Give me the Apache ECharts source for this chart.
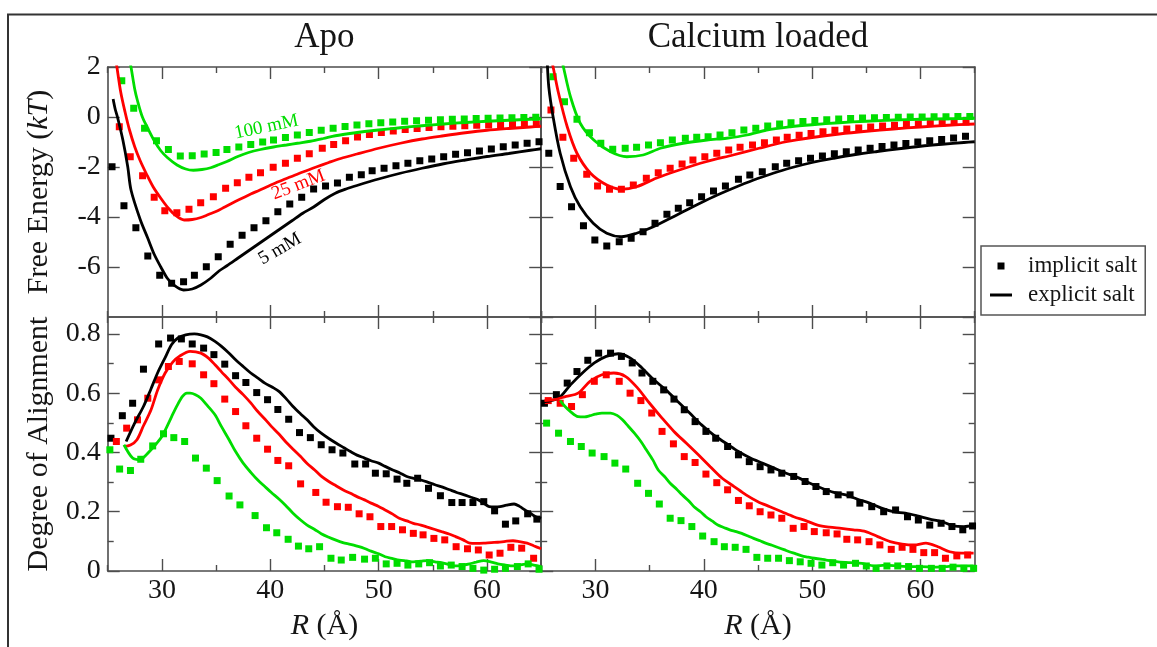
<!DOCTYPE html>
<html>
<head>
<meta charset="utf-8">
<script src="https://cdn.jsdelivr.net/npm/echarts@6/dist/echarts.min.js"></script>
<style>
html,body{margin:0;padding:0;background:#fff;}
#chart{width:1157px;height:647px;}
</style>
</head>
<body>
<div id="chart"></div>
<script>
// ---- panel titles, axis labels, legend ----
const panelTitles = ['Apo', 'Calcium loaded'];
const legendNames = ['implicit salt', 'explicit salt'];
const rTickLabels = [30, 40, 50, 60];
const alignTickLabels = [0, 0.2, 0.4, 0.6, 0.8];
const alignMinorTicks = [0.1, 0.3, 0.5, 0.7];
const curveLabels = [
  { text: '100 mM', at: [39.65, -0.4], angle: 12, color: '#00dd00' },
  { text: '25 mM', at: [42.6, -2.72], angle: 21, color: '#ff0000' },
  { text: '5 mM', at: [40.9, -5.28], angle: 30, color: '#000000' }
];

// ---- Apo, free energy (kT) vs R (Å) ----
const apoFeImp5 = [[25.4,-1.99],[26.5,-3.55],[27.6,-4.43],[28.7,-5.56],[29.8,-6.33],[30.9,-6.65],[32.0,-6.59],[33.0,-6.33],[34.1,-5.99],[35.2,-5.59],[36.3,-5.09],[37.4,-4.73],[38.5,-4.43],[39.6,-4.15],[40.7,-3.79],[41.8,-3.48],[42.9,-3.21],[44.0,-2.88],[45.1,-2.76],[46.2,-2.64],[47.3,-2.41],[48.4,-2.31],[49.4,-2.15],[50.5,-2.05],[51.6,-1.95],[52.7,-1.85],[53.8,-1.75],[54.9,-1.68],[56.0,-1.59],[57.1,-1.49],[58.2,-1.43],[59.3,-1.36],[60.4,-1.28],[61.5,-1.19],[62.6,-1.12],[63.7,-1.05],[64.8,-0.99]];
const apoFeExp5 = [[25.5,0.72],[25.7,0.3],[25.9,0.0],[26.4,-0.92],[26.85,-1.99],[27.15,-2.92],[28.0,-4.1],[28.7,-4.85],[29.3,-5.5],[29.9,-6.0],[30.5,-6.45],[31.1,-6.72],[32.0,-6.92],[32.8,-6.88],[33.6,-6.72],[34.5,-6.45],[35.3,-6.15],[36.0,-5.95],[37.0,-5.65],[38.0,-5.35],[39.0,-5.05],[40.0,-4.75],[41.0,-4.45],[42.0,-4.15],[43.0,-3.85],[44.0,-3.6],[45.0,-3.3],[46.0,-3.05],[47.0,-2.88],[48.0,-2.74],[50.0,-2.48],[52.0,-2.25],[54.0,-2.05],[56.0,-1.87],[58.0,-1.72],[60.0,-1.58],[62.0,-1.46],[64.0,-1.33],[65.0,-1.27]];
const apoFeImp25 = [[26.07,-0.39],[27.08,-1.59],[28.22,-2.35],[29.29,-3.21],[30.27,-3.75],[31.38,-3.83],[32.5,-3.69],[33.58,-3.43],[34.75,-3.19],[35.88,-2.85],[36.96,-2.63],[38.03,-2.41],[39.1,-2.23],[40.27,-2.01],[41.4,-1.85],[42.5,-1.65],[43.6,-1.47],[44.8,-1.25],[45.85,-1.1],[46.95,-0.95],[48.05,-0.8],[49.15,-0.7],[50.25,-0.62],[51.35,-0.56],[52.45,-0.5],[53.55,-0.46],[54.65,-0.42],[55.75,-0.39],[56.85,-0.37],[57.95,-0.35],[59.05,-0.33],[60.15,-0.32],[61.25,-0.31],[62.35,-0.3],[63.45,-0.29],[64.55,-0.28]];
const apoFeExp25 = [[25.75,2.3],[25.85,2.0],[26.2,1.0],[26.6,0.2],[27.0,-0.5],[27.5,-1.2],[28.0,-1.75],[28.6,-2.3],[29.2,-2.8],[29.9,-3.25],[30.6,-3.65],[31.3,-3.95],[32.05,-4.12],[32.8,-4.1],[33.6,-4.02],[34.3,-3.9],[35.1,-3.76],[35.8,-3.6],[36.6,-3.42],[37.4,-3.25],[38.2,-3.08],[39.0,-2.93],[39.7,-2.79],[40.8,-2.58],[41.9,-2.39],[43.0,-2.2],[44.3,-1.99],[45.4,-1.82],[46.5,-1.66],[48.0,-1.48],[50.0,-1.25],[52.0,-1.05],[54.0,-0.88],[56.0,-0.75],[58.0,-0.63],[60.0,-0.53],[62.0,-0.46],[64.0,-0.4],[65.0,-0.37]];
const apoFeImp100 = [[26.3,1.45],[27.4,0.35],[28.4,-0.45],[29.5,-0.95],[30.6,-1.3],[31.7,-1.56],[32.8,-1.55],[33.9,-1.48],[35.0,-1.42],[36.0,-1.3],[37.1,-1.2],[38.2,-1.1],[39.3,-1.0],[40.3,-0.92],[41.4,-0.82],[42.5,-0.72],[43.6,-0.62],[44.7,-0.53],[45.8,-0.45],[46.9,-0.38],[48.0,-0.32],[49.1,-0.27],[50.2,-0.23],[51.3,-0.2],[52.4,-0.17],[53.5,-0.15],[54.6,-0.13],[55.7,-0.11],[56.8,-0.09],[57.9,-0.08],[59.0,-0.06],[60.1,-0.05],[61.2,-0.04],[62.3,-0.03],[63.4,-0.02],[64.5,-0.01]];
const apoFeExp100 = [[27.0,2.3],[27.15,2.0],[27.5,1.1],[27.75,0.65],[28.2,0.0],[28.7,-0.45],[29.3,-0.95],[29.9,-1.35],[30.5,-1.62],[31.4,-1.92],[32.2,-2.08],[32.9,-2.13],[33.7,-2.1],[34.5,-2.03],[35.3,-1.9],[36.0,-1.78],[37.0,-1.58],[38.0,-1.42],[39.1,-1.3],[40.3,-1.2],[41.5,-1.12],[42.5,-1.05],[43.7,-0.97],[44.9,-0.86],[46.0,-0.75],[47.7,-0.64],[50.0,-0.52],[52.0,-0.43],[54.0,-0.35],[56.0,-0.28],[58.0,-0.22],[60.0,-0.17],[62.0,-0.13],[64.0,-0.09],[65.0,-0.07]];

// ---- Calcium loaded, free energy (kT) vs R (Å) ----
const caFeImp5 = [[25.7,-1.45],[26.75,-2.78],[27.8,-3.59],[28.9,-4.35],[29.95,-4.92],[31.05,-5.16],[32.2,-4.99],[33.3,-4.85],[34.4,-4.59],[35.5,-4.25],[36.6,-3.89],[37.65,-3.65],[38.7,-3.43],[39.8,-3.19],[40.9,-2.96],[42.0,-2.76],[43.2,-2.49],[44.25,-2.32],[45.4,-2.19],[46.6,-1.99],[47.65,-1.85],[48.75,-1.75],[49.85,-1.65],[50.95,-1.56],[52.05,-1.47],[53.15,-1.39],[54.25,-1.32],[55.35,-1.25],[56.45,-1.18],[57.55,-1.12],[58.65,-1.06],[59.75,-1.0],[60.85,-0.95],[61.95,-0.9],[63.05,-0.84],[64.15,-0.77]];
const caFeExp5 = [[25.55,2.3],[25.7,1.2],[26.1,0.0],[26.75,-1.45],[27.7,-2.79],[28.6,-3.59],[29.8,-4.25],[31.05,-4.65],[32.4,-4.79],[33.8,-4.65],[35.35,-4.39],[37.2,-3.99],[39.0,-3.59],[40.9,-3.19],[42.7,-2.85],[44.6,-2.52],[46.4,-2.25],[47.9,-2.05],[50.0,-1.82],[52.0,-1.65],[54.0,-1.5],[56.0,-1.38],[58.0,-1.27],[60.0,-1.17],[62.0,-1.09],[64.0,-1.02],[65.0,-0.99]];
const caFeImp25 = [[25.9,0.28],[27.0,-0.81],[28.0,-1.65],[29.2,-2.29],[30.2,-2.76],[31.3,-2.89],[32.4,-2.89],[33.5,-2.72],[34.7,-2.45],[35.8,-2.23],[36.9,-2.05],[38.0,-1.88],[39.0,-1.72],[40.1,-1.59],[41.2,-1.45],[42.3,-1.32],[43.35,-1.21],[44.5,-1.12],[45.6,-1.03],[46.7,-0.92],[47.7,-0.81],[48.8,-0.73],[49.9,-0.66],[51.0,-0.59],[52.1,-0.53],[53.2,-0.48],[54.3,-0.44],[55.4,-0.4],[56.5,-0.36],[57.6,-0.33],[58.7,-0.3],[59.8,-0.28],[60.9,-0.26],[62.0,-0.24],[63.1,-0.22],[64.2,-0.2]];
const caFeExp25 = [[25.95,2.3],[26.1,2.0],[26.6,0.95],[27.4,-0.39],[28.3,-1.45],[29.55,-2.25],[31.05,-2.72],[32.4,-2.89],[33.8,-2.79],[35.6,-2.45],[37.75,-2.12],[40.2,-1.79],[42.7,-1.52],[45.1,-1.25],[47.6,-0.99],[50.0,-0.82],[52.5,-0.68],[55.0,-0.57],[57.5,-0.48],[60.0,-0.4],[62.5,-0.33],[65.0,-0.28]];
const caFeImp100 = [[26.1,1.61],[27.15,0.61],[28.3,-0.09],[29.45,-0.63],[30.5,-1.05],[31.6,-1.29],[32.75,-1.25],[33.8,-1.21],[34.9,-1.12],[36.0,-1.03],[37.1,-0.92],[38.3,-0.85],[39.35,-0.81],[40.4,-0.79],[41.5,-0.72],[42.6,-0.63],[43.7,-0.52],[44.8,-0.45],[45.9,-0.36],[47.0,-0.28],[48.05,-0.23],[49.15,-0.18],[50.25,-0.14],[51.35,-0.11],[52.45,-0.08],[53.55,-0.06],[54.65,-0.04],[55.75,-0.03],[56.85,-0.02],[57.95,-0.01],[59.05,0.0],[60.15,0.0],[61.25,0.01],[62.35,0.01],[63.45,0.02],[64.55,0.02]];
const caFeExp100 = [[26.9,2.3],[27.05,2.0],[27.7,0.81],[28.6,-0.25],[29.85,-0.92],[31.4,-1.39],[32.9,-1.59],[34.4,-1.52],[36.0,-1.25],[38.1,-1.05],[40.3,-0.92],[42.1,-0.85],[44.0,-0.72],[45.8,-0.52],[48.0,-0.39],[50.0,-0.31],[52.5,-0.23],[55.0,-0.17],[57.5,-0.12],[60.0,-0.09],[62.5,-0.07],[65.0,-0.05]];

// ---- Apo, degree of alignment vs R (Å) ----
const apoAlImp5 = [[25.3,0.448],[26.35,0.524],[27.3,0.566],[28.3,0.681],[29.7,0.766],[30.8,0.786],[31.8,0.783],[32.8,0.766],[33.85,0.752],[34.8,0.73],[35.8,0.698],[36.8,0.659],[37.75,0.636],[38.75,0.602],[39.75,0.578],[40.7,0.545],[41.7,0.512],[42.7,0.467],[43.7,0.45],[44.7,0.426],[45.7,0.409],[46.7,0.398],[47.8,0.361],[48.8,0.361],[49.7,0.33],[50.7,0.328],[51.7,0.31],[52.6,0.296],[53.6,0.313],[54.6,0.279],[55.7,0.254],[56.75,0.231],[57.7,0.231],[58.7,0.231],[59.7,0.234],[60.7,0.203],[61.7,0.158],[62.65,0.169],[63.75,0.193],[64.6,0.175]];
const apoAlExp5 = [[26.7,0.437],[27.5,0.5],[28.3,0.555],[29.0,0.615],[29.6,0.668],[30.3,0.72],[30.9,0.764],[31.5,0.787],[32.2,0.797],[33.0,0.8],[33.6,0.797],[34.2,0.79],[34.9,0.775],[35.5,0.758],[36.2,0.735],[36.8,0.713],[37.5,0.69],[38.2,0.668],[38.9,0.65],[39.5,0.634],[40.2,0.62],[40.8,0.606],[41.5,0.58],[42.1,0.555],[42.8,0.53],[43.4,0.51],[44.0,0.487],[44.7,0.465],[45.4,0.447],[46.1,0.431],[46.8,0.416],[47.4,0.403],[48.0,0.391],[48.7,0.381],[49.3,0.372],[50.0,0.364],[50.6,0.353],[51.3,0.341],[52.0,0.33],[52.6,0.319],[53.3,0.312],[53.9,0.307],[54.5,0.3],[55.2,0.291],[55.9,0.283],[56.55,0.274],[57.2,0.265],[57.9,0.257],[58.5,0.249],[59.2,0.24],[59.7,0.228],[60.2,0.217],[60.7,0.216],[61.2,0.217],[61.8,0.222],[62.5,0.226],[63.0,0.218],[63.5,0.206],[64.0,0.195],[64.5,0.183],[65.0,0.178]];
const apoAlImp25 = [[25.8,0.437],[26.75,0.482],[27.75,0.51],[28.7,0.583],[29.7,0.645],[30.6,0.69],[31.6,0.707],[32.8,0.699],[33.85,0.662],[34.8,0.632],[35.8,0.58],[36.8,0.538],[37.75,0.49],[38.75,0.448],[39.75,0.411],[40.7,0.373],[41.7,0.355],[42.8,0.294],[44.2,0.265],[45.15,0.232],[46.2,0.217],[47.2,0.215],[48.2,0.193],[49.2,0.183],[50.2,0.15],[51.2,0.15],[52.2,0.139],[53.2,0.127],[54.1,0.122],[55.1,0.11],[56.1,0.105],[57.15,0.082],[58.2,0.075],[59.2,0.071],[60.2,0.054],[61.2,0.06],[62.2,0.08],[63.2,0.077],[64.3,0.043]];
const apoAlExp25 = [[26.5,0.42],[27.1,0.425],[27.7,0.443],[28.3,0.49],[29.0,0.544],[29.6,0.61],[30.3,0.668],[31.0,0.705],[31.6,0.724],[32.6,0.741],[33.6,0.735],[34.3,0.718],[34.9,0.696],[35.5,0.672],[36.2,0.645],[36.8,0.62],[37.5,0.595],[38.2,0.567],[38.85,0.538],[39.5,0.513],[40.1,0.488],[40.8,0.462],[41.4,0.437],[42.1,0.411],[42.8,0.386],[43.4,0.363],[44.1,0.341],[44.7,0.32],[45.4,0.302],[46.1,0.287],[46.7,0.274],[47.4,0.262],[48.0,0.251],[48.7,0.24],[49.3,0.229],[50.0,0.218],[50.6,0.206],[51.3,0.192],[51.9,0.178],[52.6,0.169],[53.2,0.161],[53.9,0.155],[54.5,0.148],[55.2,0.14],[55.8,0.133],[56.5,0.125],[57.1,0.116],[57.8,0.105],[58.4,0.094],[59.0,0.093],[59.7,0.094],[60.4,0.096],[61.0,0.097],[61.7,0.1],[62.4,0.102],[63.0,0.099],[63.7,0.094],[64.3,0.085],[65.0,0.075]];
const apoAlImp100 = [[25.2,0.409],[26.1,0.344],[27.1,0.339],[28.05,0.377],[29.15,0.422],[30.15,0.463],[31.1,0.45],[32.1,0.437],[33.1,0.381],[34.1,0.347],[35.1,0.305],[36.2,0.253],[37.2,0.223],[38.6,0.187],[39.65,0.146],[40.6,0.129],[41.65,0.107],[42.6,0.084],[43.55,0.075],[44.55,0.082],[45.6,0.043],[46.55,0.037],[47.6,0.046],[48.7,0.04],[49.7,0.043],[50.7,0.024],[51.7,0.026],[52.7,0.02],[53.7,0.024],[54.7,0.028],[55.7,0.017],[56.7,0.02],[57.7,0.015],[58.7,0.009],[59.7,0.003],[60.7,0.006],[61.7,0.009],[62.8,0.015],[63.8,0.024],[64.8,0.006]];
const apoAlExp100 = [[26.5,0.426],[27.3,0.381],[28.0,0.375],[28.5,0.39],[29.0,0.409],[29.5,0.43],[30.0,0.454],[30.5,0.49],[30.9,0.521],[31.4,0.558],[31.9,0.589],[32.3,0.6],[32.6,0.6],[33.1,0.595],[33.6,0.583],[34.2,0.558],[34.9,0.527],[35.5,0.487],[36.2,0.443],[36.8,0.403],[37.5,0.364],[38.2,0.333],[38.85,0.307],[39.5,0.285],[40.1,0.265],[40.8,0.243],[41.4,0.222],[42.1,0.195],[42.8,0.172],[43.4,0.155],[44.1,0.14],[44.7,0.126],[45.4,0.114],[46.0,0.105],[46.7,0.096],[47.4,0.09],[48.0,0.084],[48.7,0.076],[49.3,0.067],[50.0,0.058],[50.6,0.048],[51.3,0.042],[51.9,0.037],[52.6,0.034],[53.2,0.031],[53.9,0.033],[54.5,0.035],[55.2,0.031],[55.8,0.028],[56.5,0.022],[57.1,0.017],[57.8,0.02],[58.4,0.024],[59.0,0.03],[59.7,0.035],[60.4,0.03],[61.0,0.024],[61.7,0.02],[62.4,0.017],[63.0,0.02],[63.7,0.024],[64.3,0.02],[65.0,0.015]];

// ---- Calcium loaded, degree of alignment vs R (Å) ----
const caAlImp5 = [[25.3,0.566],[26.4,0.595],[27.4,0.634],[28.3,0.673],[29.3,0.711],[30.3,0.735],[31.4,0.735],[32.4,0.724],[33.4,0.702],[34.3,0.668],[35.3,0.64],[36.3,0.611],[37.25,0.58],[38.2,0.544],[39.2,0.504],[40.2,0.471],[41.1,0.448],[42.2,0.42],[43.2,0.392],[44.2,0.369],[45.2,0.352],[46.2,0.341],[47.2,0.33],[48.3,0.319],[49.35,0.302],[50.35,0.285],[51.3,0.268],[52.4,0.257],[53.5,0.257],[54.4,0.229],[55.5,0.217],[56.6,0.2],[57.7,0.206],[58.8,0.183],[59.8,0.172],[60.85,0.155],[61.9,0.161],[62.9,0.15],[63.9,0.139],[64.8,0.152]];
const caAlExp5 = [[25.2,0.57],[25.5,0.572],[26.6,0.583],[27.7,0.628],[28.8,0.668],[29.9,0.702],[31.0,0.724],[32.1,0.733],[33.2,0.719],[34.3,0.685],[35.4,0.645],[36.5,0.611],[37.6,0.572],[38.7,0.533],[39.8,0.493],[40.9,0.459],[42.05,0.431],[43.2,0.403],[44.3,0.381],[45.4,0.364],[46.5,0.347],[47.6,0.33],[48.7,0.315],[49.8,0.296],[50.9,0.279],[52.0,0.265],[53.1,0.257],[54.2,0.242],[55.3,0.229],[56.4,0.212],[57.5,0.2],[58.6,0.195],[59.7,0.186],[60.85,0.175],[61.95,0.167],[63.05,0.152],[64.0,0.15],[64.9,0.155]];
const caAlImp25 = [[25.65,0.575],[26.75,0.566],[27.8,0.555],[28.8,0.595],[29.9,0.64],[31.0,0.662],[32.2,0.64],[33.2,0.6],[34.2,0.575],[35.2,0.533],[36.15,0.471],[37.2,0.429],[38.2,0.386],[39.2,0.366],[40.2,0.327],[41.2,0.298],[42.2,0.274],[43.2,0.238],[44.2,0.22],[45.2,0.2],[46.2,0.189],[47.2,0.178],[48.25,0.144],[49.25,0.15],[50.2,0.133],[51.3,0.129],[52.3,0.125],[53.2,0.107],[54.2,0.105],[55.25,0.099],[56.25,0.088],[57.3,0.073],[58.3,0.08],[59.3,0.073],[60.3,0.062],[61.3,0.062],[62.3,0.043],[63.35,0.051],[64.35,0.054]];
const caAlExp25 = [[25.3,0.575],[26.2,0.578],[27.3,0.589],[28.4,0.6],[29.5,0.64],[30.6,0.662],[31.7,0.668],[32.8,0.656],[33.9,0.617],[35.0,0.566],[36.15,0.516],[37.25,0.471],[38.4,0.431],[39.5,0.392],[40.6,0.352],[41.7,0.313],[42.8,0.285],[43.9,0.257],[45.0,0.234],[46.1,0.217],[47.2,0.2],[48.3,0.183],[49.4,0.17],[50.5,0.155],[51.6,0.148],[52.7,0.144],[53.8,0.139],[54.95,0.133],[56.05,0.116],[57.2,0.099],[58.3,0.091],[59.4,0.088],[60.5,0.094],[61.6,0.082],[62.7,0.065],[63.8,0.06],[64.9,0.06]];
const caAlImp100 = [[25.5,0.499],[26.6,0.465],[27.7,0.437],[28.7,0.42],[29.7,0.398],[30.8,0.386],[31.8,0.364],[32.8,0.344],[33.9,0.296],[34.9,0.262],[35.9,0.226],[36.9,0.178],[37.9,0.17],[38.9,0.15],[39.9,0.118],[40.95,0.099],[41.9,0.082],[42.9,0.08],[43.9,0.073],[44.9,0.046],[45.9,0.043],[46.9,0.043],[47.9,0.035],[48.9,0.031],[49.9,0.026],[50.9,0.02],[51.9,0.028],[52.9,0.02],[54.0,0.026],[55.0,0.017],[55.9,0.009],[56.9,0.017],[57.9,0.017],[58.9,0.015],[59.9,0.009],[61.0,0.009],[62.0,0.009],[63.0,0.013],[64.0,0.009],[64.9,0.009]];
const caAlExp100 = [[26.75,0.575],[27.2,0.555],[27.7,0.538],[28.4,0.521],[29.0,0.52],[29.5,0.524],[30.0,0.529],[30.6,0.533],[31.4,0.533],[32.0,0.525],[32.5,0.51],[33.0,0.49],[33.6,0.465],[34.2,0.437],[34.7,0.409],[35.3,0.375],[35.8,0.341],[36.4,0.318],[36.9,0.296],[37.5,0.276],[38.0,0.257],[38.6,0.237],[39.1,0.217],[39.7,0.2],[40.2,0.183],[40.8,0.168],[41.3,0.155],[41.9,0.146],[42.4,0.139],[43.0,0.133],[43.5,0.127],[44.1,0.118],[44.6,0.11],[45.2,0.102],[45.7,0.094],[46.3,0.087],[46.8,0.08],[47.4,0.072],[47.9,0.065],[48.5,0.058],[49.05,0.051],[49.6,0.047],[50.2,0.043],[51.3,0.037],[52.4,0.031],[53.5,0.028],[54.6,0.026],[55.7,0.017],[56.8,0.02],[57.9,0.017],[59.0,0.015],[60.1,0.015],[61.2,0.013],[62.3,0.015],[63.4,0.017],[64.9,0.017]];

// ---- drawing ----
const FONT = '"Liberation Serif", "Times New Roman", serif';
const TXT = '#151515';
const AXC = '#4d4d4d';
const BLACK = '#000000', RED = '#ff0000', GREEN = '#00dd00';

const chart = echarts.init(document.getElementById('chart'), null, { renderer: 'canvas' });

// four panels: 0 top-left, 1 top-right, 2 bottom-left, 3 bottom-right
const grids = [
  { left: 107.7, top: 67, width: 433.5, height: 250 },
  { left: 541.2, top: 67, width: 433.5, height: 250 },
  { left: 107.7, top: 317, width: 433.5, height: 254 },
  { left: 541.2, top: 317, width: 433.5, height: 254 }
].map(g => Object.assign({ outerBoundsMode: 'none', containLabel: false }, g));

const axLine = { show: true, onZero: false, lineStyle: { color: AXC, width: 1.6 } };
const tickLine = { color: AXC, width: 1.4 };
const labelStyle = { fontFamily: FONT, fontSize: 28, color: TXT };

const xAxes = [], yAxes = [], xMain = [], yMain = [];

function addXAxes(gi, withLabels) {
  // scale ticks fall on 25,35,...,65 (short); minor ticks on 30,...,60 (long)
  const base = {
    gridIndex: gi, type: 'value', min: 25, max: 65, interval: 10,
    axisLine: axLine,
    axisTick: { show: true, inside: true, length: 6, lineStyle: tickLine },
    minorTick: { show: true, splitNumber: 2, length: 12, lineStyle: tickLine },
    splitLine: { show: false }, minorSplitLine: { show: false }
  };
  xMain[gi] = xAxes.length;
  const bottom = Object.assign({}, base, {
    position: 'bottom',
    axisLabel: Object.assign({ show: withLabels, customValues: rTickLabels, margin: 6 }, labelStyle)
  });
  if (withLabels) {
    Object.assign(bottom, {
      name: '{i|R} (Å)', nameLocation: 'middle', nameGap: 40,
      nameTextStyle: { fontFamily: FONT, fontSize: 30, color: TXT,
        rich: { i: { fontFamily: FONT, fontSize: 30, fontStyle: 'italic', color: TXT } } }
    });
  }
  xAxes.push(bottom);
  xAxes.push(Object.assign({}, base, { position: 'top', axisLabel: { show: false } }));
}

function addYAxes(gi, kind, withLabels) {
  yMain[gi] = yAxes.length;
  let main, extra = null;
  if (kind === 'fe') {
    main = {
      gridIndex: gi, type: 'value', min: -8, max: 2, interval: 2,
      axisLine: axLine,
      axisTick: { show: true, inside: true, length: 12, lineStyle: tickLine },
      axisLabel: Object.assign({ show: withLabels, showMinLabel: false, margin: 7 }, labelStyle),
      splitLine: { show: false }
    };
    if (withLabels) Object.assign(main, {
      name: 'Free Energy ({i|kT})', nameLocation: 'middle', nameRotate: 90, nameGap: 54,
      nameTextStyle: { fontFamily: FONT, fontSize: 30, color: TXT,
        rich: { i: { fontFamily: FONT, fontSize: 30, fontStyle: 'italic', color: TXT } } }
    });
  } else {
    main = {
      gridIndex: gi, type: 'value', min: 0, max: 0.857, interval: 0.2,
      axisLine: axLine,
      axisTick: { show: true, inside: true, length: 12, customValues: alignTickLabels, lineStyle: tickLine },
      axisLabel: Object.assign({ show: withLabels, customValues: alignTickLabels, margin: 7 }, labelStyle),
      splitLine: { show: false }
    };
    if (withLabels) Object.assign(main, {
      name: 'Degree of Alignment', nameLocation: 'middle', nameRotate: 90, nameGap: 54,
      nameTextStyle: { fontFamily: FONT, fontSize: 30, color: TXT }
    });
    extra = {
      gridIndex: gi, type: 'value', min: 0, max: 0.857,
      axisLine: { show: false },
      axisTick: { show: true, inside: true, length: 6, customValues: alignMinorTicks, lineStyle: tickLine },
      axisLabel: { show: false }, splitLine: { show: false }
    };
  }
  yAxes.push(Object.assign({}, main, { position: 'left' }));
  const right = Object.assign({}, main, { position: 'right', name: '' });
  right.axisLabel = { show: false };
  yAxes.push(right);
  if (extra) {
    yAxes.push(Object.assign({}, extra, { position: 'left' }));
    yAxes.push(Object.assign({}, extra, { position: 'right' }));
  }
}

addXAxes(0, false); addXAxes(1, false); addXAxes(2, true); addXAxes(3, true);
addYAxes(0, 'fe', true); addYAxes(1, 'fe', false); addYAxes(2, 'al', true); addYAxes(3, 'al', false);

function squares(gi, data, color) {
  return {
    type: 'scatter', name: legendNames[0], xAxisIndex: xMain[gi], yAxisIndex: yMain[gi],
    data: data, symbol: 'rect', symbolSize: 7, itemStyle: { color: color, opacity: 1 },
    silent: true, z: 3, clip: true
  };
}
function curve(gi, data, color) {
  return {
    type: 'line', name: legendNames[1], xAxisIndex: xMain[gi], yAxisIndex: yMain[gi],
    data: data, symbol: 'none', showSymbol: false, smooth: 0.3,
    lineStyle: { color: color, width: 2.8 }, itemStyle: { color: color },
    silent: true, z: 4, clip: true
  };
}

const series = [
  squares(0, apoFeImp5, BLACK), curve(0, apoFeExp5, BLACK),
  squares(0, apoFeImp25, RED), curve(0, apoFeExp25, RED),
  squares(0, apoFeImp100, GREEN), curve(0, apoFeExp100, GREEN),
  squares(1, caFeImp5, BLACK), curve(1, caFeExp5, BLACK),
  squares(1, caFeImp25, RED), curve(1, caFeExp25, RED),
  squares(1, caFeImp100, GREEN), curve(1, caFeExp100, GREEN),
  squares(2, apoAlImp5, BLACK), curve(2, apoAlExp5, BLACK),
  squares(2, apoAlImp25, RED), curve(2, apoAlExp25, RED),
  squares(2, apoAlImp100, GREEN), curve(2, apoAlExp100, GREEN),
  squares(3, caAlImp5, BLACK), curve(3, caAlExp5, BLACK),
  squares(3, caAlImp25, RED), curve(3, caAlExp25, RED),
  squares(3, caAlImp100, GREEN), curve(3, caAlExp100, GREEN)
];

chart.setOption({
  animation: false,
  backgroundColor: '#ffffff',
  grid: grids,
  xAxis: xAxes,
  yAxis: yAxes,
  legend: {
    orient: 'vertical', left: 981, top: 246,
    padding: [8, 8, 8, 9], itemGap: 5,
    itemWidth: 22, itemHeight: 7, symbolKeepAspect: true,
    borderColor: '#555', borderWidth: 1.5,
    selectedMode: false,
    textStyle: { fontFamily: FONT, fontSize: 23, color: TXT, lineHeight: 24, padding: [0, 0, 0, 11] },
    data: [
      { name: legendNames[0], icon: 'path://M0,0H1V1H0Z' },
      { name: legendNames[1], icon: 'path://M0,0H22V3H0Z' }
    ]
  },
  series: series
});

// frame, panel titles and curve labels
const gfx = [
  { type: 'polyline', silent: true, z: 10,
    shape: { points: [[8, 660], [8, 14.5], [1170, 14.5]] },
    style: { stroke: '#333', lineWidth: 2, fill: null } }
];
[0, 1].forEach(i => {
  const g = grids[i];
  gfx.push({ type: 'text', silent: true, x: g.left + g.width / 2, y: 38,
    style: { text: panelTitles[i], fontFamily: FONT, fontSize: 35, fill: TXT,
      align: 'center', verticalAlign: 'middle' } });
});
curveLabels.forEach(c => {
  const p = chart.convertToPixel({ gridIndex: 0 }, c.at);
  gfx.push({ type: 'text', silent: true, x: p[0], y: p[1], rotation: c.angle * Math.PI / 180,
    style: { text: c.text, fontFamily: FONT, fontSize: 19, fill: c.color,
      align: 'center', verticalAlign: 'middle' } });
});
chart.setOption({ graphic: gfx });
</script>
</body>
</html>
